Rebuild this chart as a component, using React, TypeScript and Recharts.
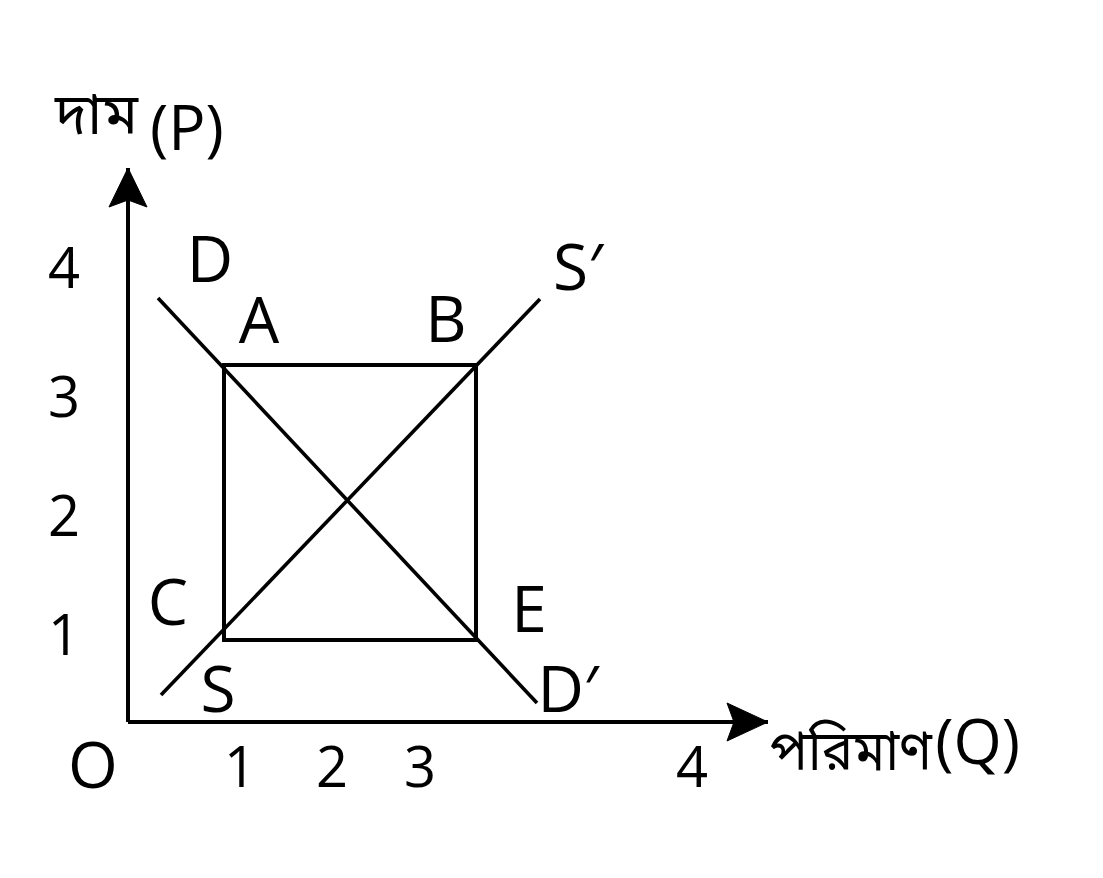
import React from 'react';
import { ScatterChart, Scatter, XAxis, YAxis } from 'recharts';

const FONT = '"Open Sans", "Noto Sans", sans-serif';
const BN_FONT = '"Noto Sans Bengali", "Lohit Bengali", "Noto Sans", sans-serif';

// axis extents (data units)
const qMax = 6.4;
const pMax = 5.54;

// tick labels (placed as in the figure)
const xTickValues = [1.12, 2.04, 2.92, 5.64];
const xTickLabels = ['1', '2', '3', '4'];
const yTickValues = [0.87, 2.065, 3.25, 4.54];
const yTickLabels = ['1', '2', '3', '4'];

// demand line D–D′
const demandLine = [
  { q: 0.3, p: 4.24 },
  { q: 4.09, p: 0.19 },
];
// supply line S–S′
const supplyLine = [
  { q: 0.33, p: 0.27 },
  { q: 4.12, p: 4.23 },
];
// rectangle A-B-E-C
const boxABEC = [
  { q: 0.96, p: 3.57 },
  { q: 3.48, p: 3.57 },
  { q: 3.48, p: 0.82 },
  { q: 0.96, p: 0.82 },
  { q: 0.96, p: 3.57 },
];
// point labels
const pointLabels = [
  { q: 0.82, p: 4.4, name: 'D' },
  { q: 1.31, p: 3.79, name: 'A' },
  { q: 3.18, p: 3.8, name: 'B' },
  { q: 4.5, p: 4.32, name: 'S′' },
  { q: 0.4, p: 0.97, name: 'C' },
  { q: 4.01, p: 0.9, name: 'E' },
  { q: 0.9, p: 0.1, name: 'S' },
  { q: 4.4, p: 0.1, name: 'D′' },
];
// axis arrow tips
const axisTips = [
  { q: qMax, p: 0, dir: 'right' },
  { q: 0, p: pMax, dir: 'up' },
];

const XTick = (props: any) => {
  const { x, y, payload } = props;
  const i = xTickValues.indexOf(payload?.value);
  return (
    <text x={x} y={y + 65} textAnchor="middle" fontFamily={FONT} fontSize={56} fill="#000">
      {xTickLabels[i] ?? ''}
    </text>
  );
};

const YTick = (props: any) => {
  const { x, y, payload } = props;
  const i = yTickValues.indexOf(payload?.value);
  return (
    <text x={x - 64} y={y + 20} textAnchor="middle" fontFamily={FONT} fontSize={56} fill="#000">
      {yTickLabels[i] ?? ''}
    </text>
  );
};

const XTitle = (props: any) => {
  const vb = props.viewBox ?? { x: 120, y: 714, width: 640, height: 1 };
  const right = vb.x + vb.width;
  return (
    <g>
      <text
        x={right + 2}
        y={vb.y + 48}
        fontFamily={BN_FONT}
        fontSize={56}
        textLength={162}
        lengthAdjust="spacingAndGlyphs"
        fill="#000"
      >
        পরিমাণ
      </text>
      <text x={right + 252} y={vb.y + 42} textAnchor="end" fontFamily={FONT} fontSize={62} fill="#000">
        (Q)
      </text>
      <text x={vb.x - 35} y={vb.y + 66} textAnchor="middle" fontFamily={FONT} fontSize={64} fill="#000">
        O
      </text>
    </g>
  );
};

const YTitle = (props: any) => {
  const vb = props.viewBox ?? { x: 119, y: 160, width: 1, height: 554 };
  const ax = vb.x + vb.width;
  return (
    <g>
      <text x={ax - 73} y={vb.y - 34} fontFamily={BN_FONT} fontSize={58} fill="#000">
        দাম
      </text>
      <text x={ax + 22} y={vb.y - 18} fontFamily={FONT} fontSize={62} fill="#000">
        (P)
      </text>
    </g>
  );
};

const NoDot = () => <g />;

const LabelShape = (props: any) => {
  const { cx, cy, payload } = props;
  return (
    <text x={cx} y={cy} textAnchor="middle" fontFamily={FONT} fontSize={64} fill="#000">
      {payload?.name}
    </text>
  );
};

const ArrowShape = (props: any) => {
  const { cx, cy, payload } = props;
  let pts = '';
  if (payload?.dir === 'right') {
    pts = `${cx},${cy} ${cx - 41},${cy - 19} ${cx - 34},${cy} ${cx - 41},${cy + 19}`;
  } else {
    pts = `${cx},${cy} ${cx - 19},${cy + 39} ${cx},${cy + 32} ${cx + 19},${cy + 39}`;
  }
  return <polygon points={pts} fill="#000" stroke="#000" strokeWidth={1} strokeLinejoin="miter" />;
};

export default function App() {
  return (
    <ScatterChart
      width={1087}
      height={862}
      margin={{ top: 160, right: 327, bottom: 147, left: 119 }}
    >
      <XAxis
        type="number"
        dataKey="q"
        domain={[0, qMax]}
        ticks={xTickValues}
        interval={0}
        tick={<XTick />}
        tickLine={false}
        tickSize={0}
        tickMargin={0}
        height={1}
        axisLine={{ stroke: '#000', strokeWidth: 4 }}
        label={<XTitle />}
      />
      <YAxis
        type="number"
        dataKey="p"
        domain={[0, pMax]}
        ticks={yTickValues}
        interval={0}
        tick={<YTick />}
        tickLine={false}
        tickSize={0}
        tickMargin={0}
        width={1}
        axisLine={{ stroke: '#000', strokeWidth: 4 }}
        label={<YTitle />}
      />
      <Scatter
        data={boxABEC}
        line={{ stroke: '#000', strokeWidth: 4, strokeLinecap: 'square' }}
        shape={<NoDot />}
        isAnimationActive={false}
      />
      <Scatter
        data={demandLine}
        line={{ stroke: '#000', strokeWidth: 3.6 }}
        shape={<NoDot />}
        isAnimationActive={false}
      />
      <Scatter
        data={supplyLine}
        line={{ stroke: '#000', strokeWidth: 3.6 }}
        shape={<NoDot />}
        isAnimationActive={false}
      />
      <Scatter data={pointLabels} shape={<LabelShape />} isAnimationActive={false} />
      <Scatter data={axisTips} shape={<ArrowShape />} isAnimationActive={false} />
    </ScatterChart>
  );
}
